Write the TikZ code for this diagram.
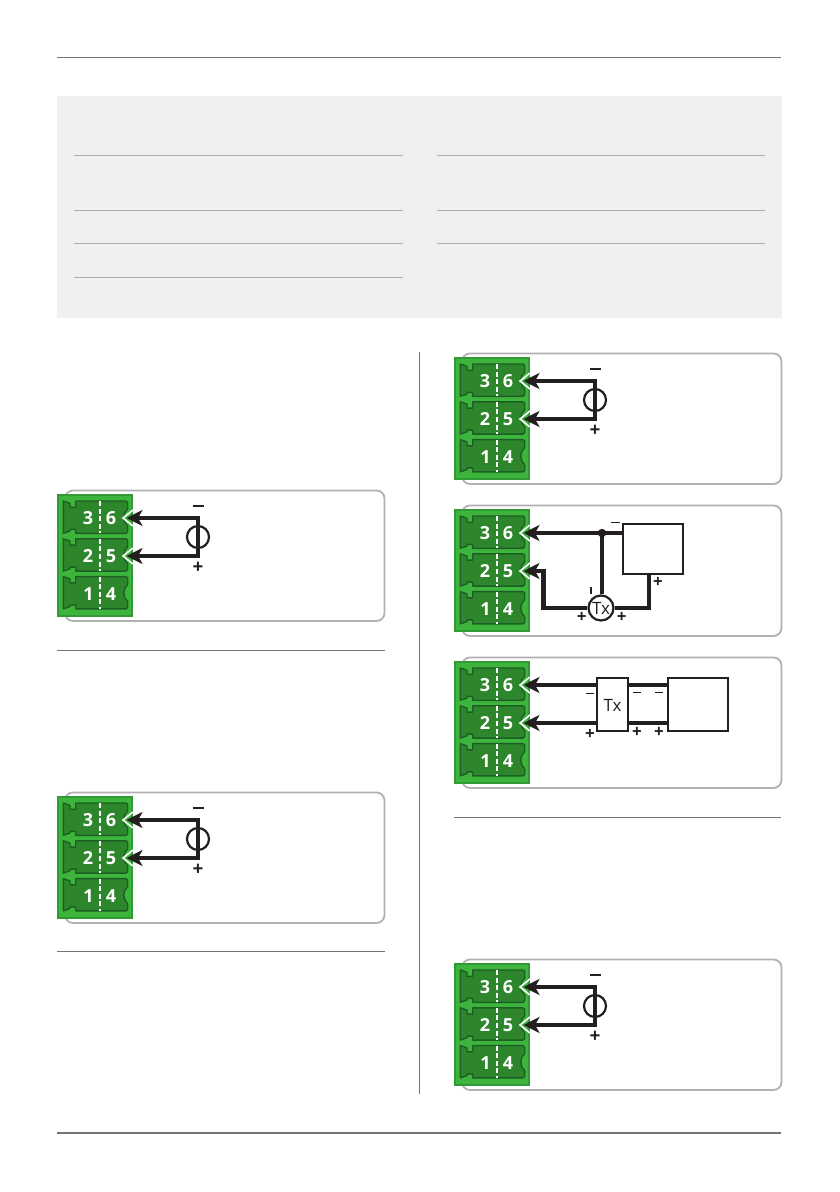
\documentclass[tikz,border=0pt]{standalone}
\usepackage{fontspec}
\setmainfont{Open Sans}
\usetikzlibrary{arrows.meta}
\definecolor{gbright}{HTML}{3DB43C}
\definecolor{gedge}{HTML}{2F9A36}
\definecolor{gcell}{HTML}{2E862C}
\definecolor{gline}{HTML}{1C5F24}
\definecolor{ink}{HTML}{231F20}
\tikzset{
  x=1pt,y=-1pt,
  rulemid/.style={draw=black!55,line width=1.1pt},
  rulein/.style={draw=black!32,line width=1.1pt},
  panel/.style={draw=black!30,line width=1.8pt,rounded corners=8pt,fill=white},
  blockbg/.style={fill=gbright,draw=gedge,line width=2pt},
  cellshape/.style={fill=gcell,draw=gline,line width=1.4pt,line join=round},
  digit/.style={text=white,font=\fontsize{18}{18}\selectfont\bfseries,inner sep=0pt},
  sepline/.style={draw=white,line width=1.6pt,dash pattern=on 5pt off 2.6pt},
  wire/.style={draw=ink,line width=4.2pt},
  wirearrow/.style={wire,-{Stealth[length=16pt,width=16pt,inset=4.5pt,fill=ink]}},
  chevron/.style={draw=white,line width=1.6pt,line join=miter},
  srcring/.style={draw=ink,line width=2.2pt,fill=none,circle,minimum size=22pt,inner sep=0pt},
  devbox/.style={draw=ink,line width=2.2pt,fill=white,inner sep=0pt},
  sign/.style={text=ink,font=\fontsize{19}{19}\selectfont\bfseries,inner sep=0pt},
  smallsign/.style={text=ink,font=\fontsize{17}{17}\selectfont\bfseries,inner sep=0pt},
  thinsign/.style={text=ink,font=\fontsize{13}{13}\selectfont,inner sep=0pt},
  txlabel/.style={text=ink,font=\fontsize{17}{17}\selectfont,inner sep=0pt},
}
\newcommand{\cellpath}{(6.3,0) -- (13,2.3) -- (13,6.3) -- (18.7,6.3) -- (18.7,0) -- (69,0) -- (70.7,1.5) -- (70.7,8) .. controls (65.5,12) and (65.5,21) .. (70.7,25) -- (70.7,30.8) -- (69,32.3) -- (18.7,32.3) -- (18.7,28.3) -- (13,28.3) -- (13,30) -- (6.3,32.3) -- cycle}
% name, x, y of the top-left corner of the green block
\newcommand{\tblock}[3]{%
  \begin{scope}[shift={(#2,#3)}]
    \draw[panel] (8,-3.5) rectangle (327.5,127);
    \draw[blockbg] (1,1) rectangle (75,122);
    \foreach \yy in {7,44.8,82.6}{
      \begin{scope}[shift={(0,\yy)}]
        \draw[cellshape] \cellpath;
        \draw[sepline] (43,0) -- (43,32.3);
      \end{scope}
    }
    \node[digit] (#1-d3) at (31,24) {3};
    \node[digit] (#1-d6) at (54,24) {6};
    \node[digit] (#1-d2) at (31,62) {2};
    \node[digit] (#1-d5) at (54,62) {5};
    \node[digit] (#1-d1) at (31.5,100) {1};
    \node[digit] (#1-d4) at (54,100) {4};
    \draw[chevron] (76,16) -- (66,24) -- (76,32);
    \draw[chevron] (76,54) -- (66,62) -- (76,70);
    \coordinate (#1-t6) at (69.5,24);
    \coordinate (#1-t5) at (69.5,62);
  \end{scope}%
}
% name, x, y : the simple source on a block
\newcommand{\tsource}[3]{%
  \begin{scope}[shift={(#2,#3)}]
    \coordinate (#1-a) at (141,24);
    \coordinate (#1-b) at (141,62);
    \node[srcring] (#1-src) at (141,43) {};
    \draw[wirearrow] (#1-a) -- (#1-t6);
    \draw[wirearrow] (#1-b) -- (#1-t5);
    \draw[wire,line cap=rect] (#1-a) -- (#1-b);
    \node[sign] (#1-minus) at (141,13.5) {\rule[3pt]{11pt}{1.9pt}};
    \node[sign] (#1-plus) at (141,74) {+};
  \end{scope}%
}
\begin{document}
\begin{tikzpicture}
\useasboundingbox (0,0) rectangle (840,1192);
\fill[white] (0,0) rectangle (840,1192);
% page rules
\draw[rulemid] (57,57.5) -- (781,57.5);
\draw[draw=black!55,line width=2pt] (57,1133) -- (781,1133);
% shaded box
\fill[black!6] (57,96) rectangle (782,318);
\foreach \yy in {155.5,210.5,243.5,277.5}{\draw[rulein] (74,\yy) -- (403,\yy);}
\foreach \yy in {155.5,210.5,243.5}{\draw[rulein] (437,\yy) -- (765,\yy);}
% column rules
\draw[rulemid] (57,650.5) -- (385,650.5);
\draw[rulemid] (57,951.5) -- (385,951.5);
\draw[rulemid] (454,817.5) -- (781,817.5);
\draw[rulemid] (419.5,352) -- (419.5,1094);
\tblock{A}{57}{494}\tsource{A}{57}{494}
\tblock{B}{57}{796}\tsource{B}{57}{796}
\tblock{C}{454}{357}\tsource{C}{454}{357}
\tblock{F}{454}{963}\tsource{F}{454}{963}
% Transmitter with separate supply
\tblock{D}{454}{509}
\coordinate (D-j) at (602,533);
\node[devbox,minimum width=60pt,minimum height=50pt] (D-box) at (653,549) {};
\node[devbox,circle,minimum size=25pt] (D-tx) at (601,608) {};
\coordinate (D-c) at (543.5,608);
\coordinate (D-e) at (649,608);
\draw[wirearrow] (D-box.west |- D-j) -- (D-t6);
\draw[wire] (D-j) -- (D-j |- D-tx.north);
\draw[wire,line join=miter] (D-tx.west) -- (D-c) -- (D-c |- D-t5) -- ++(-4,0) coordinate (D-g);
\draw[wirearrow] (D-g) -- (D-t5);
\draw[wire,line join=miter] (D-tx.east) -- (D-e) -- (D-e |- D-box.south);
\fill[ink] (D-j) circle (4.2pt);
\node[txlabel] (D-txt) at (601,608) {Tx};
\node[sign] (D-m1) at (615,524) {\rule[3pt]{9pt}{1.6pt}};
\node[sign] (D-m2) at (590.7,590) {\rule{1.6pt}{7pt}};
\node[smallsign] (D-p1) at (581.7,617.5) {+};
\node[smallsign] (D-p2) at (621.7,617.5) {+};
\node[smallsign] (D-p3) at (658,582.5) {+};
% Transmitter with separate block
\tblock{E}{454}{661}
\node[devbox,minimum width=31pt,minimum height=52.5pt] (E-tx) at (612.2,704.5) {};
\node[devbox,minimum width=60pt,minimum height=52.5pt] (E-box) at (698,704.5) {};
\path (E-tx.west |- E-t6) coordinate (E-w6) (E-tx.west |- E-t5) coordinate (E-w5);
\draw[wirearrow] (E-w6) -- (E-t6);
\draw[wirearrow] (E-w5) -- (E-t5);
\draw[wire] (E-tx.east |- E-t6) -- (E-box.west |- E-t6);
\draw[wire] (E-tx.east |- E-t5) -- (E-box.west |- E-t5);
\node[txlabel] (E-txt) at (612.5,705) {Tx};
\node[thinsign] (E-m1) at (590,695) {\rule[3pt]{8pt}{0.9pt}};
\node[thinsign] (E-m2) at (636.7,694) {\rule[3pt]{8pt}{0.9pt}};
\node[thinsign] (E-m3) at (659,694) {\rule[3pt]{8pt}{0.9pt}};
\node[smallsign] (E-p1) at (590,734) {+};
\node[smallsign] (E-p2) at (637,732) {+};
\node[smallsign] (E-p3) at (659,732) {+};
\end{tikzpicture}
\end{document}
